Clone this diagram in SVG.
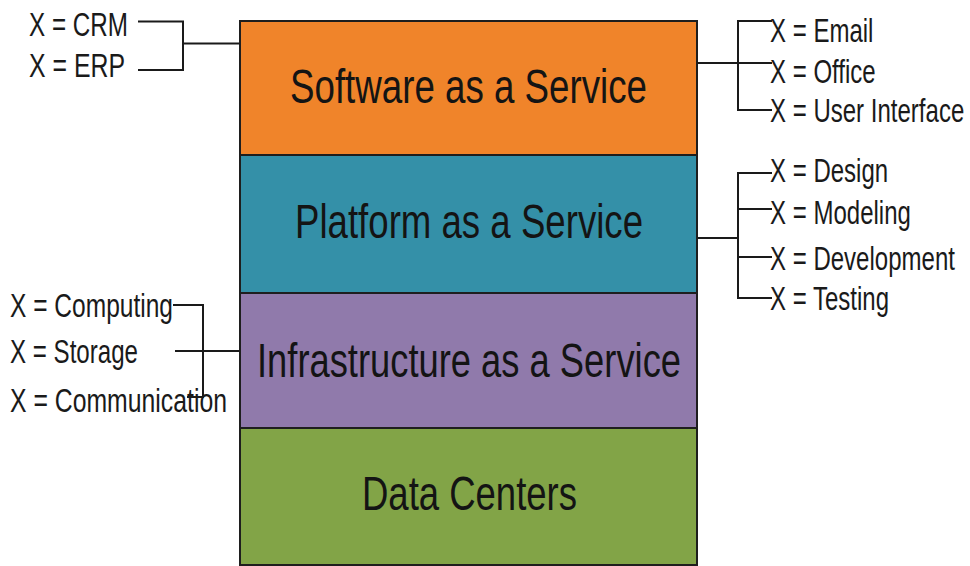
<svg xmlns="http://www.w3.org/2000/svg" width="970" height="566" viewBox="0 0 970 566">
  <style>
    .layer { stroke: #1e1e1e; stroke-width: 2; }
    .title { font-family: "Liberation Sans", Arial, sans-serif; font-size: 49px; fill: #141414; }
    .item { font-family: "Liberation Sans", Arial, sans-serif; font-size: 33px; fill: #1a1a1a; }
    .wire { fill: none; stroke: #1a1a1a; stroke-width: 2; }
  </style>
  <rect width="970" height="566" fill="#ffffff"/>

  <!-- stacked service layers -->
  <g id="saas">
    <rect class="layer" x="240" y="21" width="457" height="134" fill="#f0842a"/>
    <text class="title" x="290" y="103" textLength="357" lengthAdjust="spacingAndGlyphs">Software as a Service</text>
  </g>
  <g id="paas">
    <rect class="layer" x="240" y="155" width="457" height="138" fill="#3490a8"/>
    <text class="title" x="295" y="238" textLength="348" lengthAdjust="spacingAndGlyphs">Platform as a Service</text>
  </g>
  <g id="iaas">
    <rect class="layer" x="240" y="293" width="457" height="135" fill="#907aab"/>
    <text class="title" x="257" y="377" textLength="424" lengthAdjust="spacingAndGlyphs">Infrastructure as a Service</text>
  </g>
  <g id="datacenters">
    <rect class="layer" x="240" y="428" width="457" height="137" fill="#82a447"/>
    <text class="title" x="362" y="510" textLength="215" lengthAdjust="spacingAndGlyphs">Data Centers</text>
  </g>

  <!-- example labels -->
  <g id="saas-left">
    <text class="item" x="29" y="36" textLength="99" lengthAdjust="spacingAndGlyphs">X = CRM</text>
    <text class="item" x="29" y="77" textLength="96" lengthAdjust="spacingAndGlyphs">X = ERP</text>
  </g>
  <!-- right-hand labels use a condensed group transform -->
  <g id="saas-right" transform="translate(770 0) scale(0.728 1)">
    <text class="item" x="0" y="42">X = Email</text>
    <text class="item" x="0" y="83">X = Office</text>
    <text class="item" x="0" y="122">X = User Interface</text>
  </g>
  <g id="paas-right" transform="translate(770 0) scale(0.728 1)">
    <text class="item" x="0" y="182">X = Design</text>
    <text class="item" x="0" y="224">X = Modeling</text>
    <text class="item" x="0" y="270">X = Development</text>
    <text class="item" x="0" y="310">X = Testing</text>
  </g>
  <g id="iaas-left">
    <text class="item" x="10" y="317" textLength="163" lengthAdjust="spacingAndGlyphs">X = Computing</text>
    <text class="item" x="10" y="363" textLength="128" lengthAdjust="spacingAndGlyphs">X = Storage</text>
    <text class="item" x="10" y="412" textLength="217" lengthAdjust="spacingAndGlyphs">X = Communication</text>
  </g>

  <!-- bracket connectors -->
  <g id="connectors">
    <path class="wire" d="M138 21.5 H183 V70 H138 M183 43.5 H240"/>
    <path class="wire" d="M697 63 H772 M772 21 H738 V110 H772"/>
    <path class="wire" d="M697 238 H738 M772 173 H738 V298 H772 M738 209 H772 M738 257 H772"/>
    <path class="wire" d="M173 305 H203 V397 H187 M175 351 H240"/>
  </g>
</svg>
